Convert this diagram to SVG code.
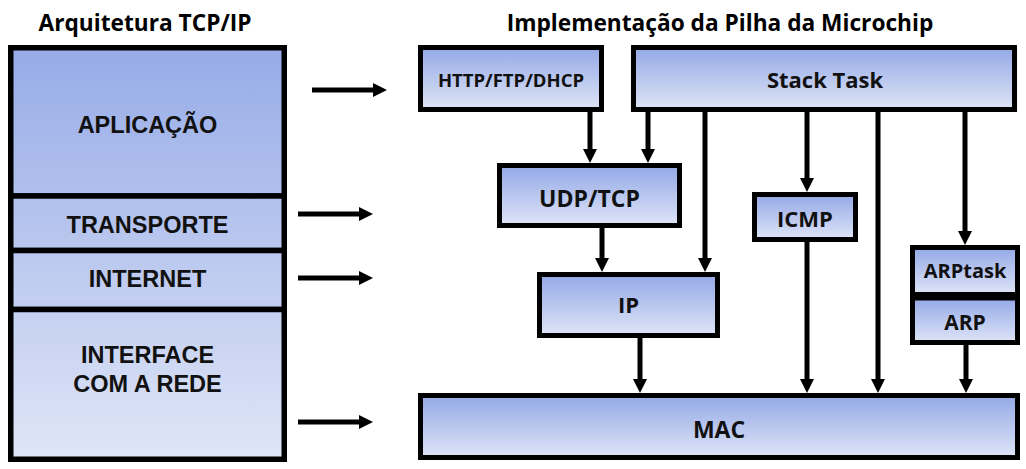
<svg xmlns="http://www.w3.org/2000/svg" width="1026" height="469" viewBox="0 0 1026 469">
<style>
.box{stroke:#000;stroke-width:5;fill:url(#g)}
.layer{stroke:#000;stroke-width:5.5;fill:url(#gl)}
.lbl{font-family:"Open Sans","Noto Sans","DejaVu Sans",sans-serif;font-weight:bold;fill:#111;text-anchor:middle}
.lay{font-family:"Liberation Sans",Arial,sans-serif;font-weight:bold;fill:#111;text-anchor:middle;font-size:23.5px}
.ttl{font-family:"Open Sans","Noto Sans","DejaVu Sans",sans-serif;font-weight:bold;fill:#000;text-anchor:middle}
.c{stroke:#000;stroke-width:5;fill:none;marker-end:url(#ah)}
</style>
<defs>
<linearGradient id="g" x1="0" y1="0" x2="0" y2="1">
<stop offset="0" stop-color="#93A8E6"/>
<stop offset="1" stop-color="#DFE5F7"/>
</linearGradient>
<linearGradient id="gl" gradientUnits="userSpaceOnUse" x1="0" y1="45" x2="0" y2="462">
<stop offset="0" stop-color="#96ABE7"/>
<stop offset="1" stop-color="#E0E6F7"/>
</linearGradient>
<marker id="ah" viewBox="0 0 14 14" markerWidth="14" markerHeight="14" markerUnits="userSpaceOnUse" refX="2" refY="7" orient="auto">
<path d="M0,0 L14,7 L0,14 Z" fill="#000"/>
</marker>
</defs>
<rect width="1026" height="469" fill="#fff"/>
<text class="ttl" x="145" y="31" font-size="22.7">Arquitetura TCP/IP</text>
<text class="ttl" x="720" y="31" font-size="22.7">Implementação da Pilha da Microchip</text>

<g id="layer-aplicacao"><rect class="layer" x="10.75" y="47.75" width="273.5" height="148.25"/><text class="lay" x="147.5" y="133">APLICAÇÃO</text></g>
<g id="layer-transporte"><rect class="layer" x="10.75" y="196" width="273.5" height="54.5"/><text class="lay" x="147.5" y="233">TRANSPORTE</text></g>
<g id="layer-internet"><rect class="layer" x="10.75" y="250.5" width="273.5" height="59"/><text class="lay" x="147.5" y="287">INTERNET</text></g>
<g id="layer-interface"><rect class="layer" x="10.75" y="309.5" width="273.5" height="149.75"/><text class="lay" x="147.5" y="363">INTERFACE</text><text class="lay" x="147.5" y="392">COM A REDE</text></g>

<g id="http"><rect class="box" x="420.5" y="47.5" width="181" height="62"/><text class="lbl" x="511" y="87" font-size="18.5">HTTP/FTP/DHCP</text></g>
<g id="stacktask"><rect class="box" x="633.5" y="47.5" width="381" height="62"/><text class="lbl" x="825" y="88" font-size="22">Stack Task</text></g>
<g id="udptcp"><rect class="box" x="499.5" y="165.5" width="180" height="60"/><text class="lbl" x="589.5" y="207" font-size="23">UDP/TCP</text></g>
<g id="icmp"><rect class="box" x="754.5" y="194.5" width="101" height="45"/><text class="lbl" x="805" y="227" font-size="22">ICMP</text></g>
<g id="ip"><rect class="box" x="539.5" y="274.5" width="178" height="61"/><text class="lbl" x="628.5" y="313" font-size="22">IP</text></g>
<g id="arptask"><rect class="box" x="912.5" y="247.5" width="105" height="47"/><text class="lbl" x="965" y="278" font-size="20">ARPtask</text></g>
<g id="arp"><rect class="box" x="912.5" y="298" width="105" height="44.5"/><text class="lbl" x="965" y="330" font-size="21">ARP</text></g>
<g id="mac"><rect class="box" x="420.5" y="395.5" width="597" height="62"/><text class="lbl" x="719" y="438" font-size="23">MAC</text></g>

<g id="connectors">
<line class="c" x1="312" y1="90" x2="375" y2="90"/>
<line class="c" x1="298" y1="214" x2="361" y2="214"/>
<line class="c" x1="298" y1="278" x2="361" y2="278"/>
<line class="c" x1="298" y1="422" x2="361" y2="422"/>
<line class="c" x1="590" y1="112" x2="590" y2="151"/>
<line class="c" x1="648" y1="112" x2="648" y2="151"/>
<line class="c" x1="705" y1="112" x2="705" y2="260"/>
<line class="c" x1="807" y1="112" x2="807" y2="180"/>
<line class="c" x1="878" y1="112" x2="878" y2="381"/>
<line class="c" x1="965" y1="112" x2="965" y2="233"/>
<line class="c" x1="602" y1="228" x2="602" y2="260"/>
<line class="c" x1="640" y1="338" x2="640" y2="381"/>
<line class="c" x1="807" y1="242" x2="807" y2="381"/>
<line class="c" x1="966" y1="345" x2="966" y2="381"/>
</g>
</svg>
